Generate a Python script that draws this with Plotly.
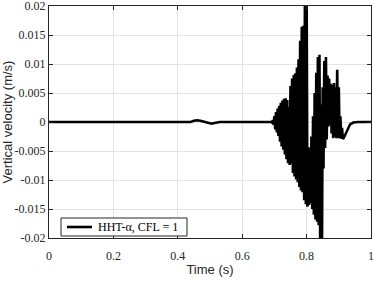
import plotly.graph_objects as go

# ---- data ----
t_quiet = [0.0, 0.44, 0.45, 0.46, 0.47, 0.48, 0.49, 0.50, 0.505, 0.51, 0.52, 0.53, 0.69]
v_quiet = [0.0, 0.0, 0.0002, 0.0003, 0.0002, 0.00005, 0.0, -0.0002, -0.0003, -0.0002, -0.0001, 0.0, 0.0]

t_burst = [
    0.6925, 0.6950, 0.6975, 0.7000, 0.7025, 0.7050, 0.7075, 0.7100, 0.7125, 0.7150,
    0.7175, 0.7200, 0.7225, 0.7250, 0.7275, 0.7300, 0.7325, 0.7350, 0.7375, 0.7400,
    0.7425, 0.7450, 0.7475, 0.7500, 0.7525, 0.7550, 0.7575, 0.7600, 0.7625, 0.7650,
    0.7675, 0.7700, 0.7725, 0.7750, 0.7775, 0.7800, 0.7825, 0.7850, 0.7875, 0.7900,
    0.7925, 0.7950, 0.7975, 0.8000, 0.8025, 0.8050, 0.8075, 0.8100, 0.8125, 0.8150,
    0.8175, 0.8200, 0.8225, 0.8250, 0.8275, 0.8300, 0.8325, 0.8350, 0.8375, 0.8400,
    0.8425, 0.8450, 0.8475, 0.8500, 0.8525, 0.8550, 0.8575, 0.8600, 0.8625, 0.8650,
    0.8675, 0.8700, 0.8725, 0.8750, 0.8775, 0.8800, 0.8825, 0.8850, 0.8875, 0.8900,
    0.8925, 0.8950, 0.8975, 0.9000, 0.9025, 0.9050, 0.9075, 0.9100, 0.9125,
]
v_burst = [
    -0.0001, 0.0003, -0.0005, 0.0010, -0.0013, 0.0017, -0.0018, 0.0023, -0.0024, 0.0028,
    -0.0034, 0.0033, -0.0042, 0.0037, -0.0048, 0.0040, -0.0056, 0.0041, -0.0064, 0.0038,
    -0.0071, 0.0026, -0.0074, 0.0062, -0.0072, 0.0075, -0.0088, 0.0081, -0.0094, 0.0084,
    -0.0099, 0.0094, -0.0104, 0.0108, -0.0112, 0.0140, -0.0118, 0.0164, -0.0121, 0.0166,
    -0.0135, 0.0250, -0.0142, 0.0250, -0.0146, -0.0043, -0.0143, -0.0045, -0.0140, -0.0025,
    -0.0150, 0.0010, -0.0160, 0.0050, -0.0168, 0.0085, -0.0172, 0.0112, -0.0178, 0.0116,
    -0.0250, 0.0030, -0.0250, 0.0060, -0.0080, 0.0105, -0.0045, 0.0112, -0.0030, 0.0080,
    -0.0008, 0.0075, -0.0005, 0.0066, -0.0020, 0.0064, -0.0028, 0.0067, -0.0026, 0.0060,
    -0.0028, 0.0090, -0.0028, 0.0060, -0.0028, 0.0010, -0.0029, -0.0010, -0.0029,
]

t_decay = [0.9150, 0.9200, 0.9250, 0.9300, 0.9350, 0.9450, 0.9600, 1.0]
v_decay = [-0.0028, -0.0022, -0.0013, -0.0007, -0.0004, -0.0001, 0.0, 0.0]

x_ticks = [0, 0.2, 0.4, 0.6, 0.8, 1]
x_labels = ["0", "0.2", "0.4", "0.6", "0.8", "1"]
y_ticks = [-0.02, -0.015, -0.01, -0.005, 0, 0.005, 0.01, 0.015, 0.02]
y_labels = ["-0.02", "-0.015", "-0.01", "-0.005", "0", "0.005", "0.01", "0.015", "0.02"]

series_name = "HHT-\u03b1, CFL = 1"

t_all = t_quiet + t_burst + t_decay
v_all = v_quiet + v_burst + v_decay

serif = "Liberation Serif, Times New Roman, serif"
sans = "Liberation Sans, Arial, sans-serif"
line_w = 2.6

fig = go.Figure()
fig.add_trace(go.Scatter(
    x=t_all, y=v_all, mode="lines", name=series_name, showlegend=False,
    line=dict(color="black", width=line_w),
))

axis_common = dict(
    showline=True, linecolor="#262626", linewidth=1, mirror="ticks",
    ticks="inside", ticklen=4, tickcolor="#262626", tickwidth=1,
    showgrid=True, gridcolor="#e3e3e3", gridwidth=1, zeroline=False,
    tickfont=dict(family=serif, size=12, color="#262626"),
    automargin=False, ticklabeloverflow="allow",
)

# MATLAB-style legend box (paper coordinates)
fig.add_shape(type="rect", xref="paper", yref="paper",
              x0=0.0373, x1=0.4286, y0=0.0086, y1=0.0862,
              line=dict(color="#262626", width=1), fillcolor="white", layer="above")
fig.add_shape(type="line", xref="paper", yref="paper",
              x0=0.0559, x1=0.1335, y0=0.0474, y1=0.0474,
              line=dict(color="black", width=line_w), layer="above")
fig.add_annotation(xref="paper", yref="paper", x=0.146, y=0.0474,
                   xanchor="left", yanchor="middle", showarrow=False,
                   text=series_name, font=dict(family=serif, size=12, color="black"))

fig.update_layout(
    width=374, height=283,
    margin=dict(l=49, r=3, t=6, b=45),
    paper_bgcolor="white", plot_bgcolor="white",
    showlegend=False,
    xaxis=dict(
        range=[0, 1], tickvals=x_ticks, ticktext=x_labels, ticklabelstandoff=7,
        title=dict(text="Time (s)", font=dict(family=sans, size=13, color="#262626"), standoff=2),
        **axis_common,
    ),
    yaxis=dict(
        range=[-0.02, 0.02], tickvals=y_ticks, ticktext=y_labels,
        title=dict(text="Vertical velocity (m/s)", font=dict(family=sans, size=13, color="#262626"), standoff=4),
        **axis_common,
    ),
)

post = (
    "document.body.style.margin='0';"
    "document.body.style.overflow='hidden';"
    "var gd=document.getElementById('{plot_id}');"
    "Plotly.relayout(gd,{width:374,height:283});"
)

fig.write_html("out.html", config={"responsive": False, "displayModeBar": False}, post_script=post)
